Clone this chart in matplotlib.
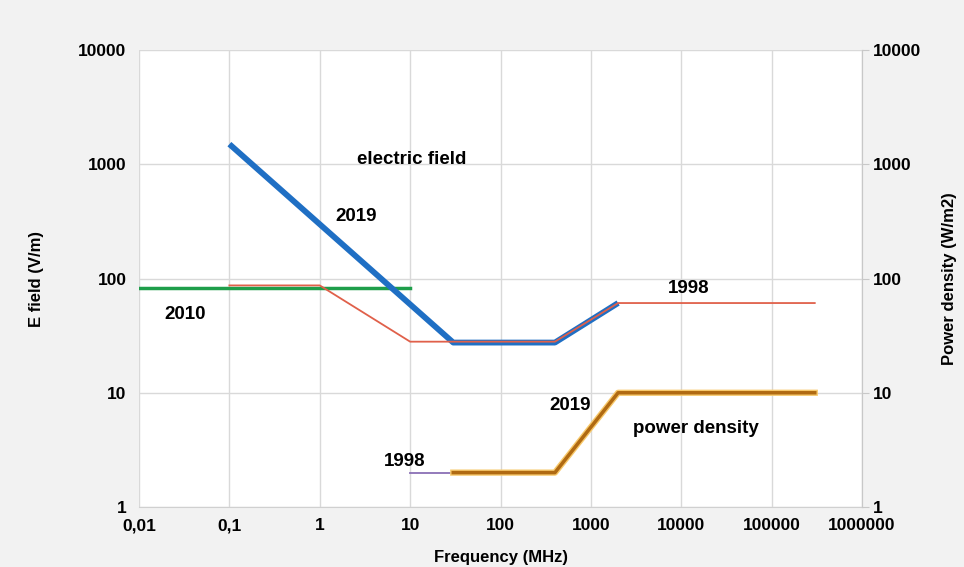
import numpy as np
import matplotlib.pyplot as plt
import matplotlib.patheffects as pe

plt.rcParams['font.family'] = ['Liberation Sans', 'DejaVu Sans']
plt.rcParams['font.weight'] = 'bold'

# E field limits (V/m)
f_2019_e = [0.1, 30, 400, 2000]
e_2019 = [1500, 27.5, 27.5, 61]
f_1998_e = [0.1, 1, 10, 400, 2000, 300000]
e_1998 = [87, 87, 28, 28, 61, 61]
f_2010 = [0.01, 10]
e_2010 = [83, 83]

# power density limits (W/m2)
f_1998_p = [10, 30]
p_1998 = [2, 2]
f_2019_p = [30, 400, 2000, 300000]
p_2019 = [2, 2, 10, 10]

xticks = [0.01, 0.1, 1, 10, 100, 1000, 10000, 100000, 1000000]
xlabels = ['0,01', '0,1', '1', '10', '100', '1000', '10000', '100000', '1000000']
yticks = [1, 10, 100, 1000, 10000]
ylabels = ['1', '10', '100', '1000', '10000']

fig = plt.figure(figsize=(9.64, 5.67), dpi=100)
fig.patch.set_facecolor('#f2f2f2')
ax = fig.add_axes([0.1442, 0.1058, 0.75, 0.806])
ax.set_facecolor('white')
ax.set_xscale('log')
ax.set_yscale('log')
ax.set_xlim(0.01, 1000000)
ax.set_ylim(1, 10000)

ax.plot(f_2010, e_2010, color='#1e9e4a', lw=2.5, zorder=3)
ax.plot(f_2019_e, e_2019, color='#1f6fc4', lw=4.2, solid_capstyle='butt', zorder=3)
ax.plot(f_1998_e, e_1998, color='#e0604a', lw=1.3, zorder=4)
ax.plot(f_1998_p, p_1998, color='#8a6fb5', lw=1.3, zorder=3)
ax.plot(f_2019_p, p_2019, color='#b06a12', lw=2.5, zorder=4,
        path_effects=[pe.Stroke(linewidth=4.5, foreground='#f7c86a'), pe.Normal()])

ax.set_xticks(xticks)
ax.set_xticklabels(xlabels, fontsize=12.5, fontweight='bold')
ax.set_yticks(yticks)
ax.set_yticklabels(ylabels, fontsize=12.5, fontweight='bold')
ax.minorticks_off()
ax.tick_params(axis='x', length=0, pad=8)
ax.tick_params(axis='y', length=0, pad=9)
ax.grid(True, color='#d9d9d9', lw=1)
for s in ax.spines.values():
    s.set_color('#d0d0d0')
ax.spines['top'].set_visible(False)
ax.spines['left'].set_visible(False)

ax2 = ax.twinx()
ax2.set_yscale('log')
ax2.set_ylim(1, 10000)
ax2.set_yticks(yticks)
ax2.set_yticklabels(ylabels, fontsize=12.5, fontweight='bold')
ax2.minorticks_off()
ax2.tick_params(length=5, color='#c8c8c8', pad=3)
for s in ax2.spines.values():
    s.set_visible(False)
ax2.spines['right'].set_visible(True)
ax2.spines['right'].set_color('#c8c8c8')

ax.set_xlabel('Frequency (MHz)', fontsize=12, fontweight='bold', labelpad=12)
ax.set_ylabel('E field (V/m)', fontsize=12, fontweight='bold', labelpad=25)
ax2.set_ylabel('Power density (W/m2)', fontsize=12, fontweight='bold', labelpad=15)

kw = dict(fontsize=13.5, fontweight='bold', ha='center', va='center')
ax.text(10.3, 1090, 'electric field', **kw)
ax.text(2.5, 347, '2019', **kw)
ax.text(0.032, 48, '2010', **kw)
ax.text(12000, 81, '1998', **kw)
ax.text(590, 7.8, '2019', **kw)
ax.text(14500, 4.9, 'power density', **kw)
ax.text(8.6, 2.5, '1998', **kw)

fig.savefig('out.png', dpi=100, facecolor=fig.get_facecolor())
